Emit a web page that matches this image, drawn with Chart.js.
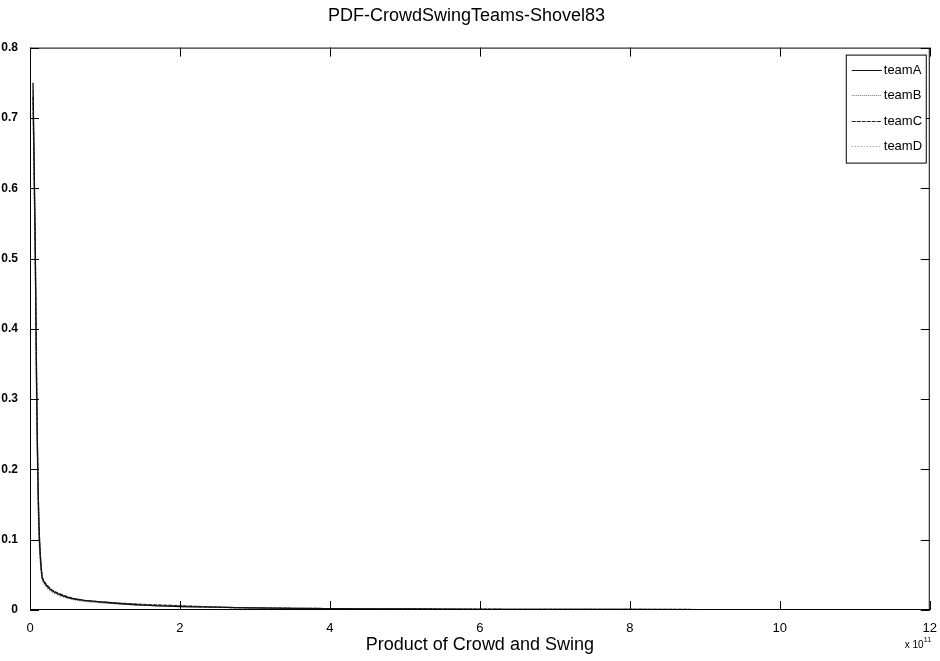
<!DOCTYPE html>
<html>
<head>
<meta charset="utf-8">
<script src="https://cdn.jsdelivr.net/npm/chart.js@4.4.1/dist/chart.umd.min.js"></script>
<style>
  html, body { margin: 0; padding: 0; background: #fff; }
  #wrap { width: 940px; height: 661px; }
</style>
</head>
<body>
<div id="wrap"><canvas id="grafico" width="940" height="661"></canvas></div>
<script>
// dados (x em unidades de 10^11)
const titulo = 'PDF-CrowdSwingTeams-Shovel83';
const tituloX = 'Product of Crowd and Swing';
const xs = [0.04, 0.07, 0.09, 0.12, 0.16, 0.2, 0.3, 0.5, 0.7, 1.0, 1.5, 2.0, 2.5, 3.0, 4.0, 5.0, 6.0, 8.0, 10.0, 12.0];
const teamA = [0.75, 0.52, 0.30, 0.12, 0.047, 0.038, 0.027, 0.018, 0.014, 0.011, 0.007, 0.005, 0.004, 0.003, 0.002, 0.0015, 0.001, 0.0007, 0.0005, 0.0003];
const teamB = [0.74, 0.50, 0.29, 0.11, 0.045, 0.036, 0.026, 0.017, 0.013, 0.010, 0.007, 0.005, 0.004, 0.003, 0.002, 0.0014, 0.001, 0.0007, 0.0005, 0.0003];
const teamC = [0.73, 0.51, 0.31, 0.12, 0.049, 0.039, 0.028, 0.019, 0.014, 0.011, 0.008, 0.006, 0.004, 0.003, 0.002, 0.0016, 0.0011, 0.0008, 0.0005, 0.0003];
const teamD = [0.72, 0.49, 0.28, 0.10, 0.044, 0.035, 0.025, 0.017, 0.013, 0.010, 0.007, 0.005, 0.0035, 0.0028, 0.0018, 0.0013, 0.001, 0.0006, 0.0004, 0.0003];
const nomes = ['teamA', 'teamB', 'teamC', 'teamD'];
const series = [teamA, teamB, teamC, teamD];
const cores = ['#111', '#777', '#222', '#888'];
const tracos = [[], [1, 1], [4, 1], [1, 2]];

const fonte = "'Liberation Sans', Arial, sans-serif";

// moldura, ticks internos, legenda e o "x 10^11"
const moldura = {
  id: 'moldura',
  afterDraw(chart) {
    const c = chart.ctx;
    const a = chart.chartArea;
    const sx = chart.scales.x, sy = chart.scales.y;
    c.save();
    c.strokeStyle = '#000';
    c.lineWidth = 1;
    c.setLineDash([]);
    c.strokeRect(a.left + 0.5, a.top + 0.5, a.right - a.left - 1, a.bottom - a.top - 1);
    const tam = 9;
    c.beginPath();
    sx.ticks.forEach(t => {
      const p = Math.round(sx.getPixelForValue(t.value)) + 0.5;
      c.moveTo(p, a.bottom); c.lineTo(p, a.bottom - tam);
      c.moveTo(p, a.top); c.lineTo(p, a.top + tam);
    });
    sy.ticks.forEach(t => {
      const p = Math.round(sy.getPixelForValue(t.value)) + 0.5;
      c.moveTo(a.left, p); c.lineTo(a.left + tam, p);
      c.moveTo(a.right, p); c.lineTo(a.right - tam, p);
    });
    c.stroke();

    // legenda
    const lx = a.right - 84, ly = a.top + 7, lw = 80, lh = 108;
    c.fillStyle = '#fff';
    c.fillRect(lx, ly, lw, lh);
    c.strokeRect(lx + 0.5, ly + 0.5, lw, lh);
    c.font = '13px ' + fonte;
    c.textBaseline = 'middle';
    c.textAlign = 'left';
    nomes.forEach((n, i) => {
      const y = Math.round(ly + 15 + i * 25.5) + 0.5;
      c.strokeStyle = cores[i];
      c.setLineDash(tracos[i]);
      c.beginPath();
      c.moveTo(lx + 6, y); c.lineTo(lx + 36, y);
      c.stroke();
      c.fillStyle = '#000';
      c.fillText(n, lx + 38, y);
    });

    // multiplicador do eixo x
    c.fillStyle = '#000';
    c.font = '10px ' + fonte;
    c.textAlign = 'left';
    c.textBaseline = 'alphabetic';
    c.fillText('x 10', a.right - 25, a.bottom + 38);
    c.font = '7px ' + fonte;
    c.fillText('11', a.right - 6, a.bottom + 32);
    c.restore();
  }
};

const ctx = document.getElementById('grafico').getContext('2d');
const meuGrafico = new Chart(ctx, {
  type: 'line',
  data: {
    datasets: series.map((s, i) => ({
      label: nomes[i],
      data: xs.map((x, j) => ({ x: x, y: s[j] })),
      borderColor: cores[i],
      borderDash: tracos[i],
      borderWidth: 1.3,
      pointRadius: 0,
      tension: 0.3,
      fill: false
    }))
  },
  options: {
    responsive: false,
    animation: false,
    layout: { padding: { left: 0, right: 7, top: 0, bottom: 0 } },
    plugins: {
      legend: { display: false },
      tooltip: { enabled: false },
      title: {
        display: true,
        text: titulo,
        color: '#000',
        font: { family: fonte, size: 18, weight: 'normal' },
        padding: { top: 5, bottom: 21 }
      }
    },
    scales: {
      x: {
        type: 'linear',
        min: 0,
        max: 12,
        grid: { display: false },
        border: { display: false },
        ticks: { stepSize: 2, color: '#000', padding: 3, maxRotation: 0, font: { family: fonte, size: 13 } },
        title: { display: true, text: tituloX, color: '#000', font: { family: fonte, size: 18 }, padding: { top: 0, bottom: 5 } },
        afterFit: s => { s.height = 51; }
      },
      y: {
        min: 0,
        max: 0.8,
        grid: { display: false },
        border: { display: false },
        ticks: { stepSize: 0.1, color: '#000', padding: 4, font: { family: fonte, size: 12, weight: 'bold' },
          callback: v => String(Math.round(v * 10) / 10) },
        afterFit: s => { s.width = 30; }
      }
    }
  },
  plugins: [moldura]
});
</script>
</body>
</html>
